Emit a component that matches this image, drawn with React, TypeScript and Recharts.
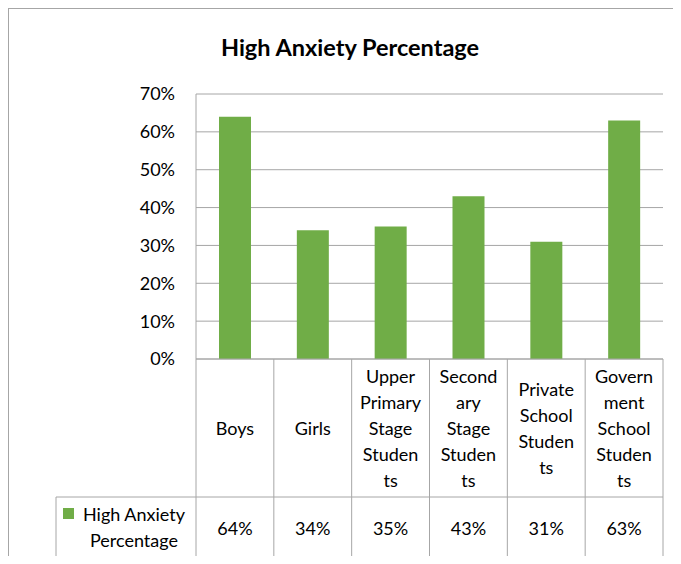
import React from "react";
import { BarChart, Bar, XAxis, YAxis, CartesianGrid } from "recharts";

const categories = [
  "Boys",
  "Girls",
  "Upper Primary Stage Students",
  "Secondary Stage Students",
  "Private School Students",
  "Government School Students",
];
// wrapped the way the original table breaks them
const categoryLines = [
  ["Boys"],
  ["Girls"],
  ["Upper", "Primary", "Stage", "Studen", "ts"],
  ["Second", "ary", "Stage", "Studen", "ts"],
  ["Private", "School", "Studen", "ts"],
  ["Govern", "ment", "School", "Studen", "ts"],
];
const highAnxiety = [64, 34, 35, 43, 31, 63];
const yTicks = [0, 10, 20, 30, 40, 50, 60, 70];
const seriesName = "High Anxiety Percentage";
const legendLines = ["High Anxiety", "Percentage"];

const data = categories.map((name, i) => ({ name, value: highAnxiety[i] }));

const W = 672;
const H = 555;
const margin = { top: 85, right: 18, bottom: 6, left: 127 };
const Y_AXIS_W = 60;
const X_AXIS_H = 199;
const ROW1 = 138;
const LEGEND_W = 140;
const GRID = "#a6a6a6";
const GREEN = "#70ad47";
const FONT = "Lato, 'Noto Sans', sans-serif";
const TXT = "#000";
const FS = 18;

const colW = (W - margin.left - Y_AXIS_W - margin.right) / categories.length;

const TableTick = (props: any) => {
  const { x, y, payload } = props;
  const i = payload.index;
  const left = x - colW / 2;
  const right = x + colW / 2;
  const bottom = y + X_AXIS_H;
  const row2 = y + ROW1;
  const lines = categoryLines[i];
  const mid1 = y + ROW1 / 2;
  const lh = 26;
  return (
    <g fontFamily={FONT} fontSize={FS} fill={TXT}>
      <line x1={left} y1={y} x2={left} y2={bottom} stroke={GRID} />
      {i === categories.length - 1 && <line x1={right} y1={y} x2={right} y2={bottom} stroke={GRID} />}
      <line x1={left} y1={row2} x2={right} y2={row2} stroke={GRID} />
      <line x1={left} y1={bottom} x2={right} y2={bottom} stroke={GRID} />
      {lines.map((t, k) => (
        <text
          key={k}
          x={x}
          y={mid1 + (k - (lines.length - 1) / 2) * lh}
          textAnchor="middle"
          dominantBaseline="central"
        >
          {t}
        </text>
      ))}
      <text x={x} y={(row2 + bottom) / 2} textAnchor="middle" dominantBaseline="central">
        {highAnxiety[i]}%
      </text>
      {i === 0 && (
        <g>
          <line x1={left - LEGEND_W} y1={row2} x2={left} y2={row2} stroke={GRID} />
          <line x1={left - LEGEND_W} y1={bottom} x2={left} y2={bottom} stroke={GRID} />
          <line x1={left - LEGEND_W} y1={row2} x2={left - LEGEND_W} y2={bottom} stroke={GRID} />
          <rect x={left - LEGEND_W + 7} y={row2 + 11} width={11} height={11} fill={GREEN} />
          {legendLines.map((t, k) => (
            <text
              key={k}
              x={left - LEGEND_W + 78}
              y={row2 + 17 + k * 26}
              textAnchor="middle"
              dominantBaseline="central"
            >
              {t}
            </text>
          ))}
        </g>
      )}
    </g>
  );
};

export default function App() {
  return (
    <div
      style={{
        position: "relative",
        width: W + 1,
        height: H + 1,
        marginBottom: -8,
        overflow: "hidden",
      }}
    >
      <style>{"html,body{overflow:hidden}"}</style>
      <div
        style={{
          position: "absolute",
          left: 0,
          top: 0,
          width: 900,
          height: 900,
          borderLeft: `1px solid ${GRID}`,
          borderTop: `1px solid ${GRID}`,
        }}
      />
      <div
        style={{
          position: "absolute",
          left: 342,
          top: 25,
          transform: "translateX(-50%)",
          whiteSpace: "nowrap",
          fontFamily: FONT,
          fontWeight: 700,
          fontSize: 23.5,
          color: TXT,
        }}
      >
        {seriesName}
      </div>
      <div style={{ position: "absolute", left: 1, top: 1 }}>
        <BarChart width={W} height={H} data={data} margin={margin}>
          <CartesianGrid vertical={false} stroke={GRID} />
          <XAxis
            dataKey="name"
            height={X_AXIS_H}
            interval={0}
            tickLine={false}
            tickSize={0}
            tickMargin={0}
            axisLine={{ stroke: GRID }}
            tick={<TableTick />}
          />
          <YAxis
            width={Y_AXIS_W}
            domain={[0, 70]}
            ticks={yTicks}
            tickFormatter={(v) => `${v}%`}
            tickLine={false}
            tickSize={0}
            tickMargin={21}
            axisLine={{ stroke: GRID }}
            tick={{ fontFamily: FONT, fontSize: FS, fill: TXT }}
          />
          <Bar dataKey="value" name={seriesName} fill={GREEN} barSize={32} isAnimationActive={false} />
        </BarChart>
      </div>
    </div>
  );
}
